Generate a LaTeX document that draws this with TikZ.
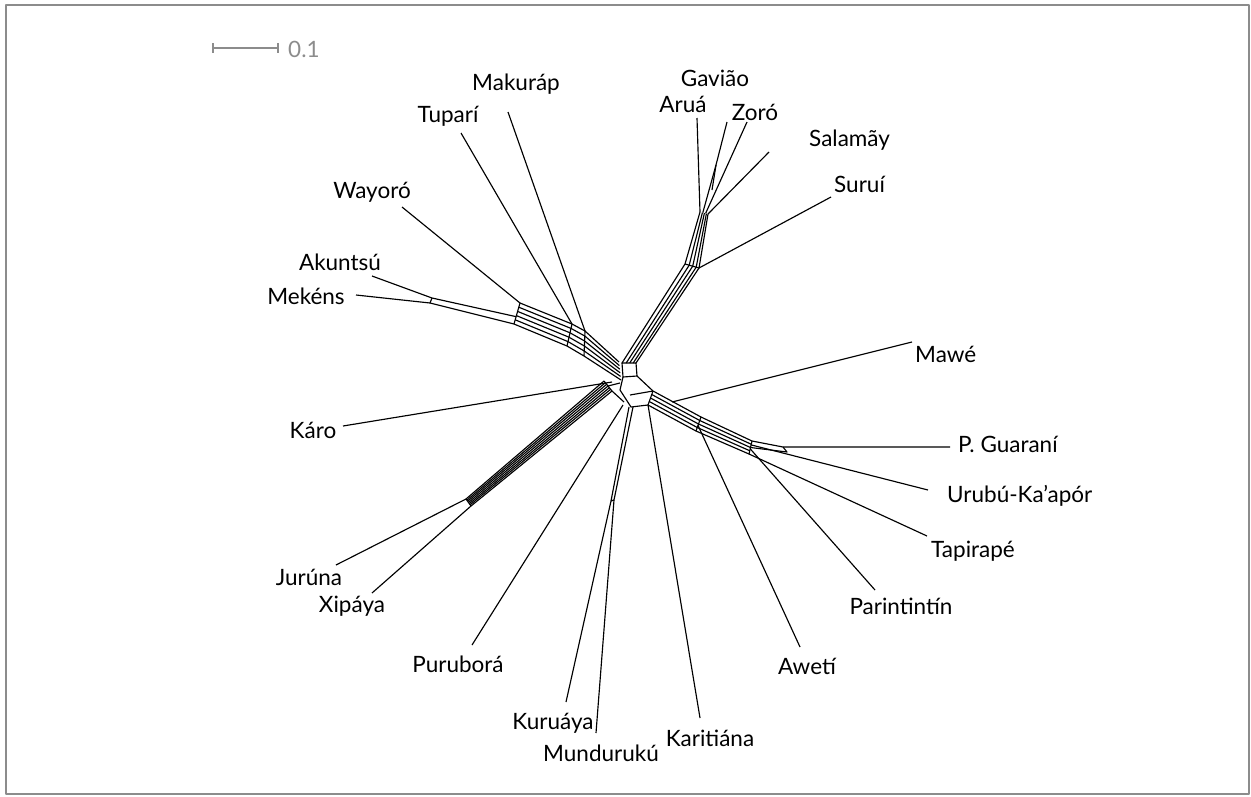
\documentclass[tikz,border=0pt]{standalone}
\usepackage{fontspec}
\setmainfont{Lato}
\usetikzlibrary{calc}
\definecolor{framegray}{gray}{0.55}
\definecolor{bargray}{gray}{0.55}
\begin{document}
\begin{tikzpicture}[x=1pt,y=-1pt,line join=round,
  lab/.style={font=\fontsize{22.5}{23}\selectfont,inner sep=0pt},
  net/.style={black,line width=1.15pt}]
\useasboundingbox (0,0) rectangle (1251,796);
\draw[framegray,line width=2pt] (6,5) rectangle (1249,794);
% scale bar
\coordinate (sb1) at (213,48); \coordinate (sb2) at (278,48);
\draw[bargray,line width=2pt] (sb1) -- (sb2);
\draw[bargray,line width=2pt] ($(sb1)+(0,-5)$) -- ($(sb1)+(0,5)$);
\draw[bargray,line width=2pt] ($(sb2)+(0,-5)$) -- ($(sb2)+(0,5)$);
\node[lab,text=bargray,anchor=west] (sbl) at (288,49) {0.1};
% labels
\node[lab] (makurap) at (516,84) {Makuráp};
\node[lab] (tupari) at (448,116) {Tuparí};
\node[lab] (wayoro) at (372,192) {Wayoró};
\node[lab] (akuntsu) at (340,262) {Akuntsú};
\node[lab] (mekens) at (306,296) {Mekéns};
\node[lab] (karo) at (313,430) {Káro};
\node[lab] (juruna) at (309,577) {Jurúna};
\node[lab] (xipaya) at (352,606) {Xipáya};
\node[lab] (purubora) at (458,664) {Puruborá};
\node[lab] (kuruaya) at (553,723) {Kuruáya};
\node[lab] (munduruku) at (601,753) {Mundurukú};
\node[lab] (karitiana) at (710,738) {Karitiána};
\node[lab] (aweti) at (807,666) {Awetí};
\node[lab] (parintintin) at (901,606) {Parintintín};
\node[lab,anchor=west] (tapirape) at (931,551) {Tapirapé};
\node[lab,anchor=west] (urubu) at (947,496) {Urubú-Ka’apór};
\node[lab,anchor=west] (guarani) at (958,444) {P. Guaraní};
\node[lab,anchor=west] (mawe) at (915,354) {Mawé};
\node[lab,anchor=west] (surui) at (834,184) {Suruí};
\node[lab,anchor=west] (salamay) at (809,140) {Salamãy};
\node[lab] (zoro) at (755,112) {Zoró};
\node[lab] (gaviao) at (715,78) {Gavião};
\node[lab] (arua) at (683,104) {Aruá};
% leaf end points
\coordinate (eMak) at (508,112);
\coordinate (eTup) at (461,133);
\coordinate (eWay) at (402,207);
\coordinate (eAku) at (372,276);
\coordinate (eMek) at (356,295);
\coordinate (eKar) at (343,426);
\coordinate (eJur) at (336,565);
\coordinate (eXip) at (372,593);
\coordinate (ePur) at (472,645);
\coordinate (eKur) at (566,702);
\coordinate (eMun) at (596,733);
\coordinate (eKrt) at (700,718);
\coordinate (eAwe) at (800,647);
\coordinate (ePar) at (875,590);
\coordinate (eTap) at (927,536);
\coordinate (eUru) at (928,490);
\coordinate (eGua) at (950,447);
\coordinate (eMaw) at (912,342);
\coordinate (eSur) at (831,197);
\coordinate (eSal) at (769,152);
\coordinate (eZor) at (747,122);
\coordinate (eGav) at (727,122);
\coordinate (eAru) at (697,118);
% ---- core
\coordinate (c1) at (622,363); \coordinate (c2) at (636,363);
\coordinate (c3) at (637,376); \coordinate (c4) at (623,377);
\draw[net] (c1) -- (c2) -- (c3) -- (c4) -- cycle;
% ---- bundle A (north-east)
\coordinate (A0t) at (622,363); \coordinate (A0b) at (636,363);
\coordinate (A1t) at (685,264); \coordinate (A1b) at (699,268);
\coordinate (A2t) at (700,212); \coordinate (A2b) at (708,214);
\foreach \t in {0,0.3,0.55,0.8,1}
  \draw[net] ($(A0t)!\t!(A0b)$) -- ($(A1t)!\t!(A1b)$) -- ($(A2t)!\t!(A2b)$);
\draw[net] (A1t) -- (A1b);
\draw[net] (eAru) -- (A2t);
\draw[net] (eGav) -- (716,165) -- ($(A2t)!0.35!(A2b)$);
\draw[net] (716,165) -- (712,190);
\draw[net] (eZor) -- ($(A2t)!0.7!(A2b)$);
\draw[net] (eSal) -- (A2b);
\draw[net] (eSur) -- (A1b);
% ---- bundle B (north-west)
\coordinate (B0t) at (619,362); \coordinate (B0b) at (621,380);
\coordinate (B1t) at (585,331); \coordinate (B1b) at (584,356);
\coordinate (B2t) at (572,324); \coordinate (B2b) at (567,346);
\coordinate (B3t) at (520,303); \coordinate (B3b) at (514,324);
\foreach \t in {0,0.2,0.4,0.6,0.8,1}
  \draw[net] ($(B0t)!\t!(B0b)$) -- ($(B1t)!\t!(B1b)$) -- ($(B2t)!\t!(B2b)$) -- ($(B3t)!\t!(B3b)$);
\draw[net] (B1t) -- (B1b);
\draw[net] (B2t) -- (B2b);
\draw[net] (B3t) -- (B3b);
\draw[net] (eMak) -- (B1t);
\draw[net] (eTup) -- (B2t);
\draw[net] (eWay) -- (B3t);
\coordinate (K1) at (432,298); \coordinate (K2) at (430,303);
\draw[net] (eAku) -- (K1) -- ($(B3t)!0.65!(B3b)$);
\draw[net] (eMek) -- (K2) -- (B3b);
\draw[net] (K1) -- (K2);
% ---- Karo
\coordinate (kC) at (612,382);
\draw[net] (eKar) -- (kC);
% ---- bundle D (Juruna / Xipaya)
\coordinate (D0t) at (604,381); \coordinate (D0b) at (612,391);
\coordinate (D1t) at (466,499); \coordinate (D1b) at (471,506);
\foreach \t in {0,0.17,0.33,0.5,0.67,0.83,1}
  \draw[net] ($(D0t)!\t!(D0b)$) -- ($(D1t)!\t!(D1b)$);
\draw[net] (D0t) -- (D0b);
\draw[net] (D0b) -- (624,402);
\draw[net] ($(D0t)!0.5!(D0b)$) -- (620,383);
\draw[net] (eJur) -- (D1t);
\draw[net] (eXip) -- (D1b);
\draw[net] (D1t) -- (D1b);
% ---- lower core
\coordinate (F0t) at (653,391); \coordinate (F0b) at (648,405);
\draw[net] (c3) -- (F0t);
\draw[net] (c4) -- (620,390) -- (631,407) -- (F0b);
\draw[net] (630,395) -- (F0t);
% ---- Purubora
\coordinate (pC) at (623,405);
\draw[net] (ePur) -- (pC);
% ---- bundle E (Kuruaya / Munduruku)
\coordinate (E0a) at (629,407); \coordinate (E0b) at (633,407);
\coordinate (E1a) at (611,501); \coordinate (E1b) at (614,500);
\draw[net] (E0a) -- (E1a);
\draw[net] (E0b) -- (E1b);
\draw[net] (E1a) -- (E1b);
\draw[net] (eKur) -- (E1a);
\draw[net] (eMun) -- (E1b);
% ---- Karitiana
\coordinate (krC) at (648,405);
\draw[net] (eKrt) -- (krC);
% ---- bundle F (south-east)
\coordinate (F1t) at (701,417); \coordinate (F1b) at (696,431);
\coordinate (F2t) at (752,441); \coordinate (F2b) at (749,454);
\foreach \t in {0,0.25,0.5,0.75,1}
  \draw[net] ($(F0t)!\t!(F0b)$) -- ($(F1t)!\t!(F1b)$) -- ($(F2t)!\t!(F2b)$);
\draw[net] (F0t) -- (F0b);
\draw[net] (F1t) -- (F1b);
\draw[net] (F2t) -- (F2b);
\draw[net] (eMaw) -- (672,402);
\draw[net] (eAwe) -- ($(F1t)!0.6!(F1b)$);
\coordinate (g1) at (783,447);
\draw[net] (F2t) -- (g1) -- (eGua);
\draw[net] ($(F2t)!0.5!(F2b)$) -- (787,452) -- (g1);
\draw[net] (eUru) -- ($(F2t)!0.3!(F2b)$);
\draw[net] (ePar) -- ($(F2t)!0.6!(F2b)$);
\draw[net] (eTap) -- (F2b);
\end{tikzpicture}
\end{document}
